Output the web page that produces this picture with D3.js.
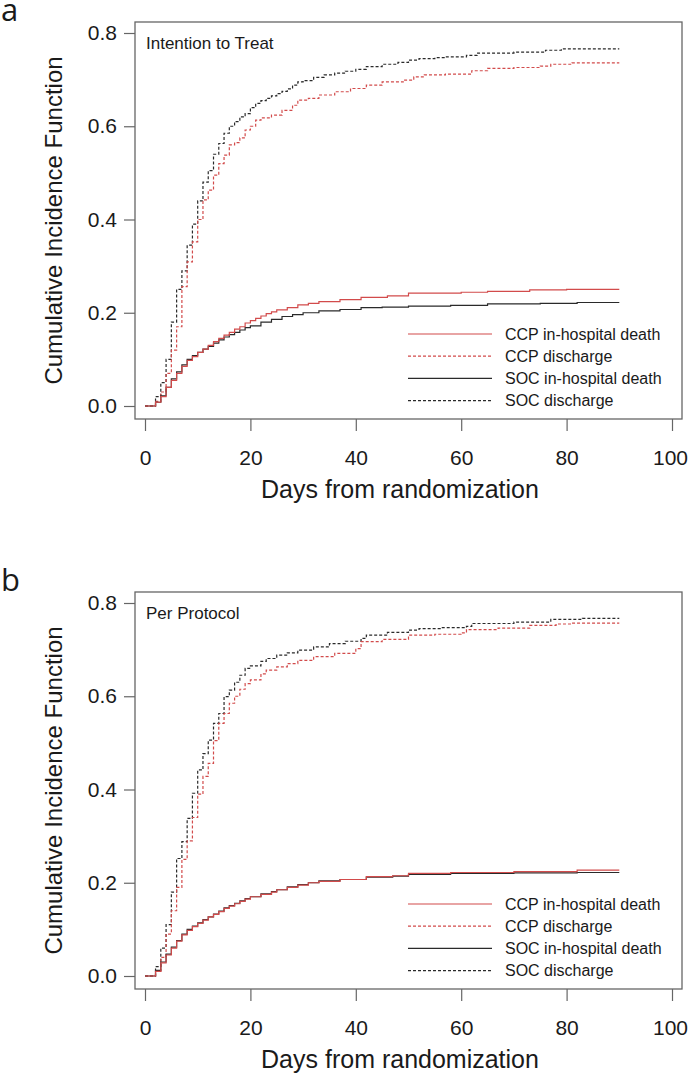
<!DOCTYPE html>
<html><head><meta charset="utf-8">
<script src="https://cdn.jsdelivr.net/npm/d3@7"></script>
<style>
body{margin:0;background:#fff}
svg{display:block}
text{font-family:"Liberation Sans",Arial,Helvetica,sans-serif;fill:#1a1a1a}
</style>
</head><body>
<svg id="c" width="688" height="1074"></svg>
<script>
// ---------- data ----------
const xTicks = [0, 20, 40, 60, 80, 100];
const yTicks = [0, 0.2, 0.4, 0.6, 0.8];
const panelLabels = ["a", "b"];
const panelTitles = ["Intention to Treat", "Per Protocol"];
const xTitle = "Days from randomization";
const yTitle = "Cumulative Incidence Function";
const seriesNames = ["CCP in-hospital death", "CCP discharge", "SOC in-hospital death", "SOC discharge"];

// Panel a: Intention to Treat  [day, CIF]
const ittSocDischarge = [[0,0],[2,0.02],[3,0.05],[4,0.10],[5,0.18],[6,0.25],[7,0.29],[8,0.345],[9,0.39],[10,0.44],[11,0.48],[12,0.505],[13,0.54],[14,0.563],[15,0.585],[16,0.60],[17,0.61],[18,0.62],[19,0.627],[20,0.64],[21,0.649],[22,0.655],[23,0.66],[24,0.665],[25,0.67],[26,0.675],[27,0.68],[28,0.688],[29,0.695],[30,0.698],[32,0.705],[34,0.71],[36,0.714],[38,0.718],[40,0.722],[42,0.728],[45,0.733],[48,0.737],[50,0.742],[52,0.745],[55,0.747],[57,0.749],[61,0.752],[63,0.757],[70,0.759],[76,0.763],[79,0.766],[90,0.766]];
const ittCcpDischarge = [[0,0],[2,0.01],[3,0.03],[4,0.07],[5,0.12],[6,0.17],[7,0.256],[8,0.309],[9,0.352],[10,0.40],[11,0.442],[12,0.463],[13,0.495],[14,0.52],[15,0.538],[16,0.56],[17,0.565],[18,0.575],[19,0.592],[20,0.60],[21,0.613],[22,0.618],[24,0.624],[26,0.634],[28,0.645],[29,0.656],[31,0.66],[33,0.667],[36,0.674],[39,0.681],[42,0.688],[45,0.695],[49,0.699],[51,0.706],[53,0.71],[57,0.712],[62,0.719],[65,0.724],[70,0.726],[75,0.729],[77,0.733],[81,0.736],[90,0.736]];
const ittCcpDeath = [[0,0],[2,0.008],[3,0.02],[4,0.04],[5,0.055],[6,0.07],[7,0.085],[8,0.098],[9,0.106],[10,0.115],[11,0.122],[12,0.13],[13,0.138],[14,0.145],[15,0.152],[16,0.158],[17,0.165],[18,0.17],[19,0.178],[20,0.183],[21,0.188],[22,0.193],[23,0.198],[24,0.202],[25,0.206],[27,0.211],[29,0.217],[31,0.22],[33,0.224],[37,0.228],[41,0.233],[46,0.236],[50,0.242],[60,0.244],[65,0.246],[73,0.249],[80,0.25],[90,0.25]];
const ittSocDeath = [[0,0],[2,0.008],[3,0.022],[4,0.04],[5,0.058],[6,0.073],[7,0.088],[8,0.10],[9,0.108],[10,0.115],[11,0.122],[12,0.128],[13,0.135],[14,0.142],[15,0.148],[16,0.153],[17,0.158],[18,0.163],[19,0.168],[20,0.172],[22,0.18],[24,0.186],[26,0.192],[28,0.196],[30,0.20],[33,0.204],[37,0.207],[41,0.211],[45,0.212],[50,0.214],[58,0.216],[65,0.219],[75,0.22],[82,0.222],[90,0.222]];

// Panel b: Per Protocol  [day, CIF]
const ppSocDischarge = [[0,0],[2,0.02],[3,0.06],[4,0.11],[5,0.18],[6,0.252],[7,0.288],[8,0.338],[9,0.392],[10,0.442],[11,0.477],[12,0.506],[13,0.542],[14,0.563],[15,0.599],[16,0.613],[17,0.63],[18,0.645],[19,0.66],[20,0.665],[22,0.675],[23,0.681],[25,0.688],[27,0.693],[29,0.699],[32,0.706],[35,0.713],[38,0.718],[41,0.724],[42,0.731],[46,0.737],[50,0.742],[52,0.745],[56,0.747],[61,0.75],[62,0.756],[70,0.759],[77,0.765],[83,0.767],[90,0.767]];
const ppCcpDischarge = [[0,0],[2,0.01],[3,0.04],[4,0.09],[5,0.14],[6,0.19],[7,0.25],[8,0.29],[9,0.34],[10,0.39],[11,0.428],[12,0.456],[13,0.505],[14,0.542],[15,0.563],[16,0.585],[17,0.60],[18,0.615],[19,0.627],[20,0.635],[22,0.648],[23,0.656],[25,0.663],[27,0.67],[29,0.677],[32,0.685],[36,0.692],[40,0.702],[41,0.717],[45,0.722],[50,0.731],[55,0.733],[60,0.736],[61,0.743],[67,0.746],[73,0.752],[78,0.755],[81,0.757],[90,0.757]];
const ppCcpDeath = [[0,0],[2,0.01],[3,0.028],[4,0.045],[5,0.06],[6,0.075],[7,0.088],[8,0.098],[9,0.106],[10,0.113],[11,0.12],[12,0.127],[13,0.132],[14,0.138],[15,0.145],[16,0.15],[17,0.155],[18,0.16],[19,0.165],[20,0.17],[22,0.175],[24,0.18],[25,0.185],[27,0.19],[29,0.195],[31,0.20],[33,0.203],[37,0.207],[42,0.213],[47,0.215],[50,0.22],[58,0.222],[70,0.224],[82,0.227],[90,0.227]];
const ppSocDeath = [[0,0],[2,0.012],[3,0.03],[4,0.047],[5,0.062],[6,0.076],[7,0.09],[8,0.10],[9,0.107],[10,0.114],[11,0.121],[12,0.127],[13,0.133],[14,0.139],[15,0.146],[16,0.151],[17,0.156],[18,0.161],[19,0.166],[20,0.17],[22,0.176],[24,0.181],[25,0.185],[27,0.191],[29,0.196],[31,0.20],[33,0.204],[37,0.207],[42,0.212],[47,0.214],[50,0.218],[58,0.22],[70,0.221],[82,0.222],[90,0.222]];

// ---------- styles ----------
const RED = "#d24b4b", BLACK = "#2a2a2a", GREY = "#666";
const styles = [
  {color: RED, dash: null},
  {color: RED, dash: "3,2"},
  {color: BLACK, dash: null},
  {color: BLACK, dash: "3,2"}
];

const panels = [
  {label: panelLabels[0], title: panelTitles[0], series: [ittCcpDeath, ittCcpDischarge, ittSocDeath, ittSocDischarge], dy: 0},
  {label: panelLabels[1], title: panelTitles[1], series: [ppCcpDeath, ppCcpDischarge, ppSocDeath, ppSocDischarge], dy: 570}
];

const svg = d3.select("#c");
const box = {l: 135, r: 682, t: 22, b: 419};

panels.forEach(p => {
  const g = svg.append("g").attr("transform", `translate(0,${p.dy})`);
  const x = d3.scaleLinear().domain([0, 100]).range([145, 672]);
  const y = d3.scaleLinear().domain([0, 0.8]).range([406, 33]);

  // box
  g.append("rect").attr("x", box.l).attr("y", box.t)
    .attr("width", box.r - box.l).attr("height", box.b - box.t)
    .attr("fill", "none").attr("stroke", GREY).attr("stroke-width", 1.3);

  // y axis
  const ya = g.append("g").attr("transform", `translate(${box.l},0)`)
    .call(d3.axisLeft(y).tickValues(yTicks).tickFormat(d3.format(".1f")).tickSize(11).tickPadding(7));
  // x axis
  const xa = g.append("g").attr("transform", `translate(0,${box.b})`)
    .call(d3.axisBottom(x).tickValues(xTicks).tickFormat(d3.format("d")).tickSize(12).tickPadding(19));
  [ya, xa].forEach(a => {
    a.select(".domain").remove();
    a.selectAll(".tick line").attr("stroke", GREY).attr("stroke-width", 1.2);
    a.selectAll(".tick text").attr("font-size", 21).attr("fill", "#1a1a1a")
      .attr("font-family", '"Liberation Sans",Arial,sans-serif');
  });
  xa.selectAll(".tick text").filter(d => d === 100).attr("dx", -2);

  // axis titles
  g.append("text").attr("x", 400).attr("y", 498)
    .attr("text-anchor", "middle").attr("font-size", 25).text(xTitle);
  g.append("text").attr("transform", `translate(62,${(box.t + box.b) / 2}) rotate(-90)`)
    .attr("text-anchor", "middle").attr("font-size", 24).text(yTitle);

  // panel label
  g.append("text").attr("x", 1).attr("y", 21).attr("font-size", 31)
    .style("font-family", '"Open Sans","Noto Sans",sans-serif').text(p.label);
  // inner title
  g.append("text").attr("x", 146).attr("y", 49).attr("font-size", 17).text(p.title);

  // curves
  const line = d3.line().x(d => x(d[0])).y(d => y(d[1])).curve(d3.curveStepAfter);
  const order = [3, 1, 2, 0];
  order.forEach(i => {
    g.append("path").datum(p.series[i]).attr("d", line)
      .attr("fill", "none").attr("stroke", styles[i].color)
      .attr("stroke-width", 1.2)
      .attr("stroke-dasharray", styles[i].dash);
  });

  // legend
  const lg = g.append("g");
  seriesNames.forEach((name, i) => {
    const ry = 334 + i * 22.2;
    lg.append("line").attr("x1", 408).attr("x2", 492).attr("y1", ry).attr("y2", ry)
      .attr("stroke", styles[i].color).attr("stroke-width", 1.2)
      .attr("stroke-dasharray", styles[i].dash);
    lg.append("text").attr("x", 505).attr("y", ry + 5.5).attr("font-size", 16).text(name);
  });
});
</script>
</body></html>
